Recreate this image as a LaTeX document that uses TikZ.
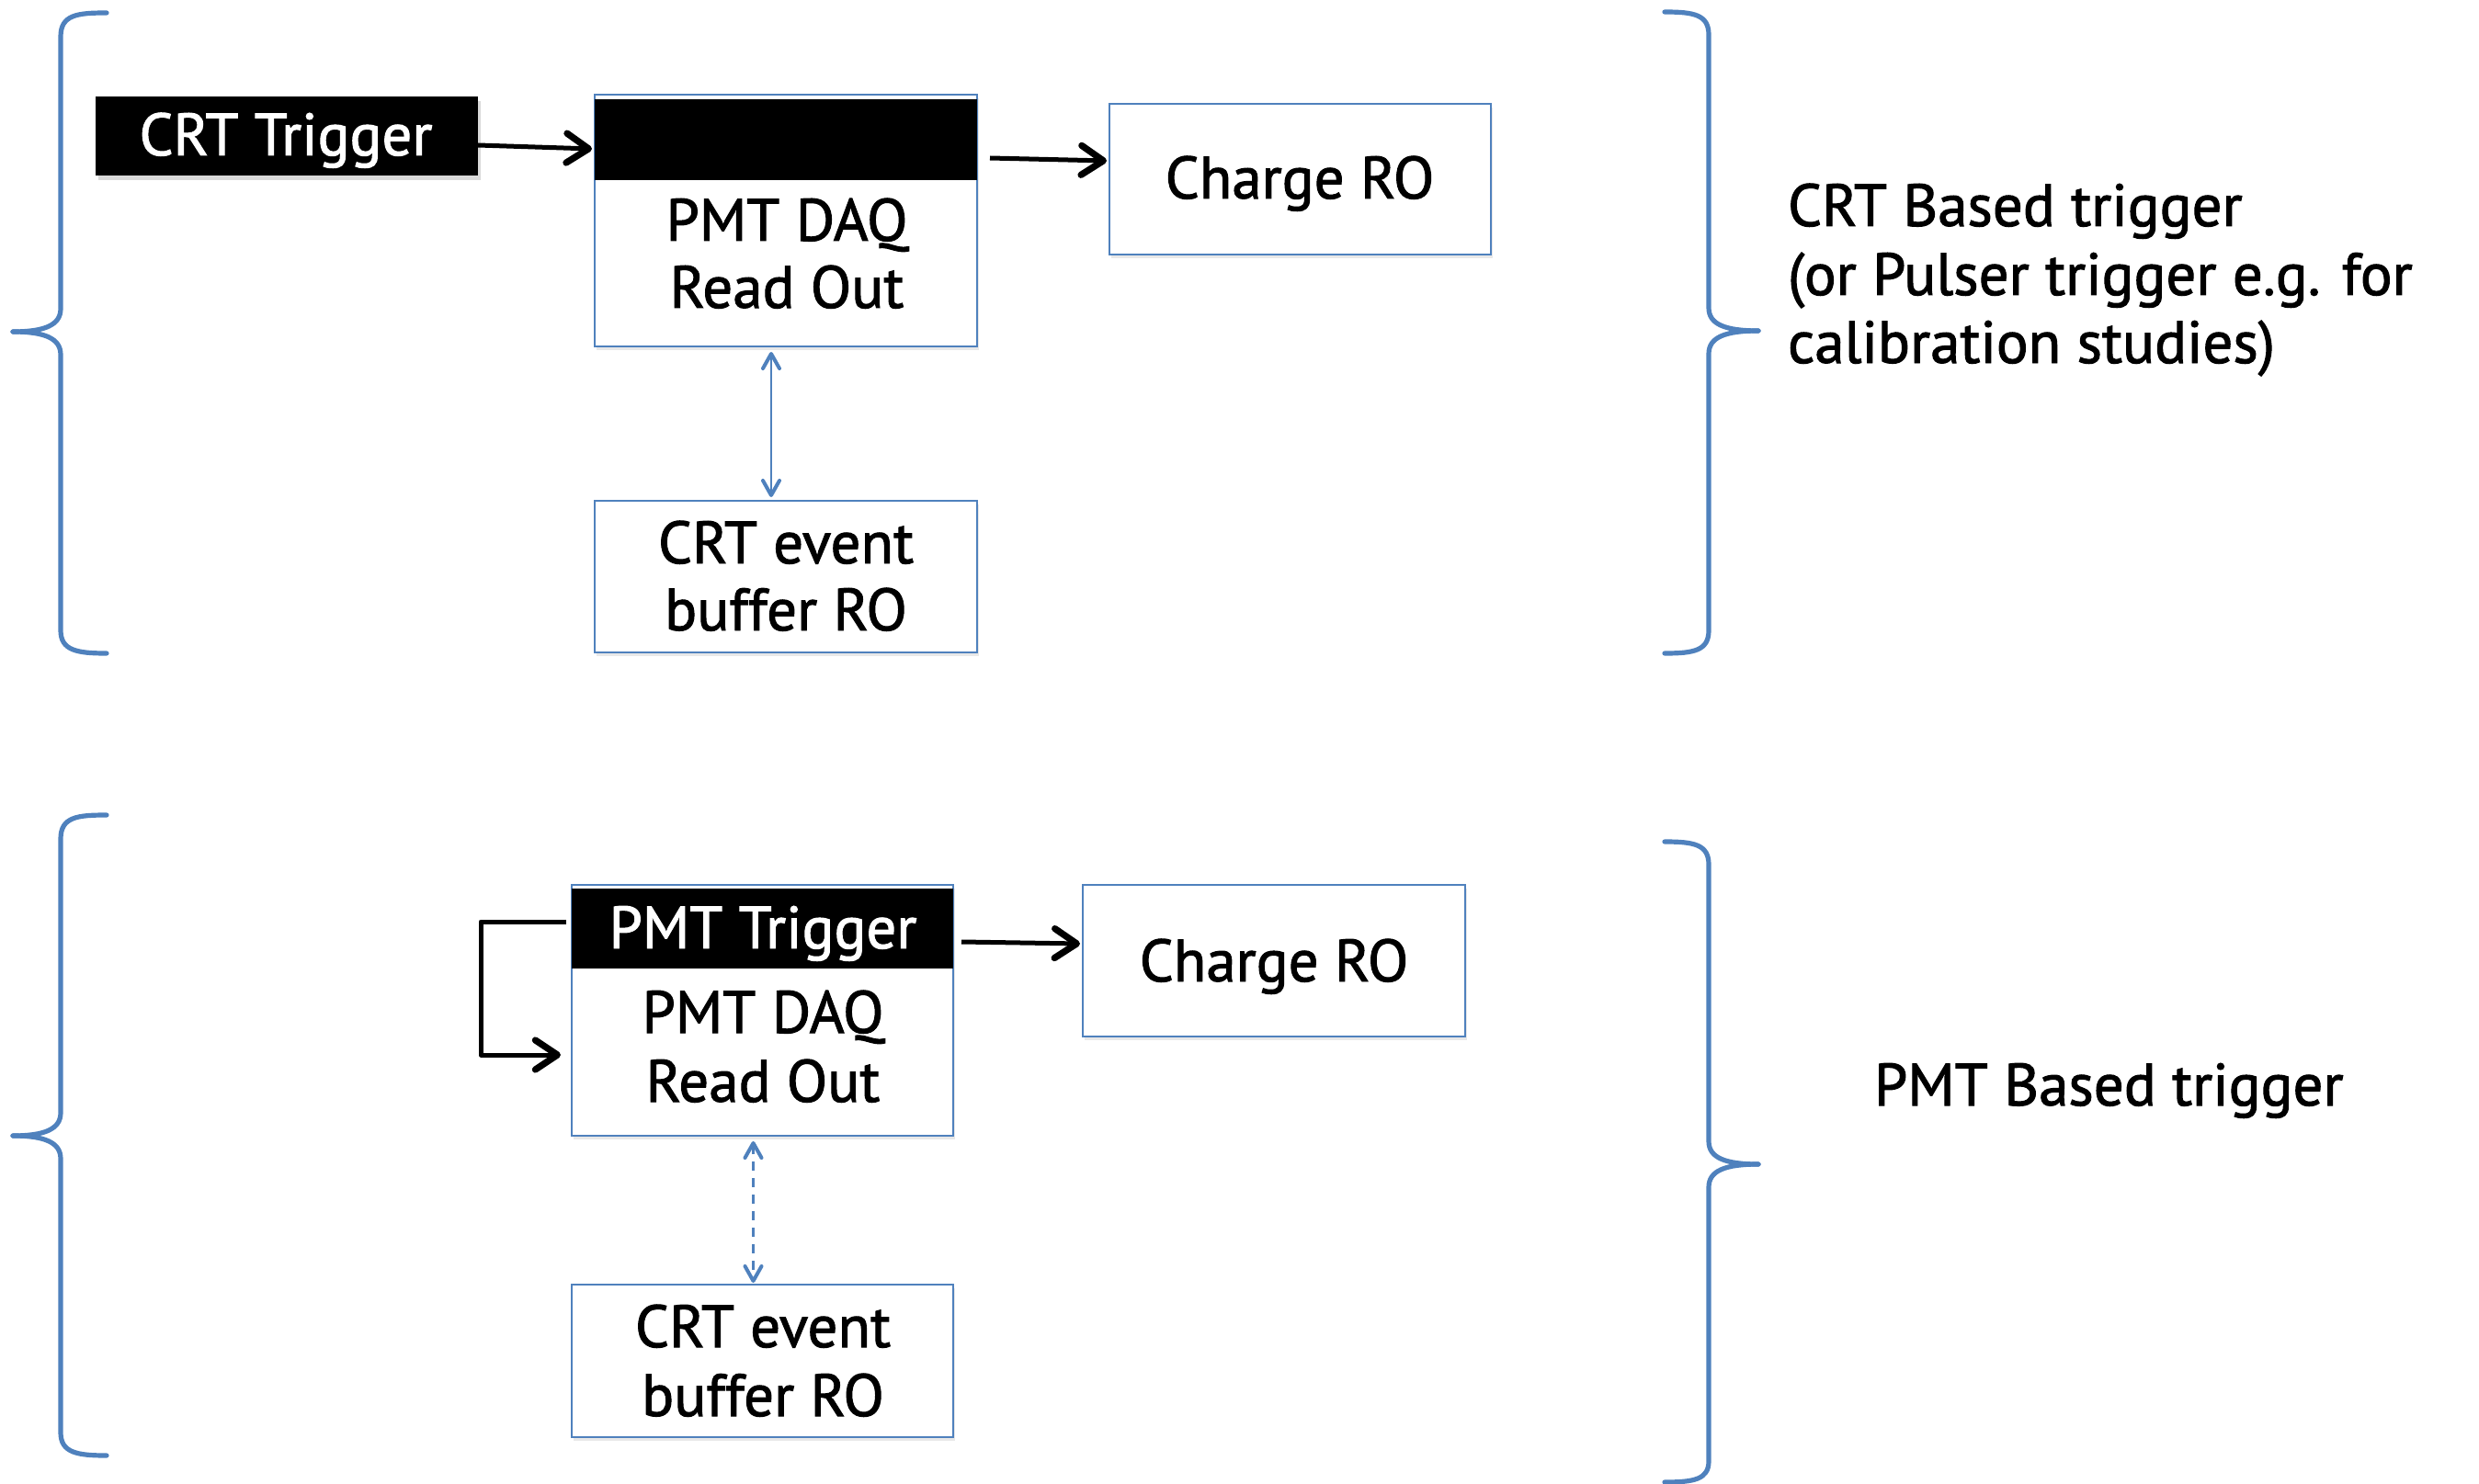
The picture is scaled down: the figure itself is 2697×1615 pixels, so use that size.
\documentclass[tikz,border=0pt]{standalone}
\usepackage{fontspec}
\setmainfont{PT Sans}[FakeBold=1.5]
\usetikzlibrary{arrows.meta,shadows}
\definecolor{obl}{HTML}{4F81BD}
\begin{document}
\begin{tikzpicture}[x=0.5pt,y=-0.5pt,
  every node/.style={inner sep=0pt,outer sep=0pt},
  txt/.style={font=\fontsize{32.5}{36.5}\selectfont,anchor=base},
  wtxt/.style={txt,text=white},
  lbl/.style={font=\fontsize{32.5}{37}\selectfont,anchor=base west},
  bluebox/.style={draw=obl,line width=1.3pt,fill=white,
    drop shadow={shadow xshift=1.2pt,shadow yshift=-2pt,opacity=0.18}},
  band/.style={fill=black},
  brace/.style={draw=obl,line width=2.6pt,line cap=round},
  blk/.style={draw=black,line width=2.5pt,
    -{Straight Barb[length=12pt,width=16pt,line width=3.6pt,round]}},
  bar/.style={draw=obl,line width=1.1pt,
    {Straight Barb[length=8pt,width=9pt,line width=2pt,round]}-{Straight Barb[length=8pt,width=9pt,line width=2pt,round]}}
]
\useasboundingbox (0,0) rectangle (2697,1615);

% ---------------- top section ----------------
\node[fill=black,minimum width=208pt,minimum height=43pt,
  drop shadow={shadow xshift=1.5pt,shadow yshift=-2.5pt,opacity=0.3}] (crttrig) at (311.5,148) {};
\node[wtxt] (crttrigt) at (311,169) {CRT Trigger};

\node[bluebox,minimum width=208pt,minimum height=137pt] (pmt1) at (855,240) {};
\node[band,minimum width=208pt,minimum height=44pt] (band1) at (855,152) {};
\node[txt] (pmt1a) at (856,262) {PMT DAQ};
\node[txt] (pmt1b) at (856,335) {Read Out};

\node[bluebox,minimum width=207.5pt,minimum height=82pt] (charge1) at (1414.5,195) {};
\node[txt] (charge1t) at (1414,216) {Charge RO};

\node[bluebox,minimum width=208pt,minimum height=82.5pt] (buf1) at (855,627.5) {};
\node[txt] (buf1a) at (855,613) {CRT event};
\node[txt] (buf1b) at (855,686) {buffer RO};

\coordinate (t1s) at (520,158);
\draw[blk] (t1s) -- ([xshift=-1.5pt]band1.west |- 0,162);
\coordinate (c1s) at (1077,172);
\draw[blk] (c1s) -- ([xshift=-1.5pt]charge1.west |- 0,175);
\draw[bar,shorten <=3pt,shorten >=2pt] ([xshift=-8pt]pmt1.south) -- ([xshift=-8pt]buf1.north);

% braces top
\draw[brace] (116,14) .. controls (84,14) and (66,16) .. (66,40) -- (66,336)
  .. controls (66,354) and (48,361) .. (14,361);
\draw[brace] (14,361) .. controls (48,361) and (66,368) .. (66,386) -- (66,686)
  .. controls (66,708) and (84,711) .. (116,711);
\draw[brace] (1811,13) .. controls (1843,13) and (1859,16) .. (1859,38) -- (1859,335)
  .. controls (1859,353) and (1877,360) .. (1913,360);
\draw[brace] (1913,360) .. controls (1877,360) and (1859,367) .. (1859,385) -- (1859,686)
  .. controls (1859,708) and (1843,711) .. (1811,711);

\node[lbl] (crtl1) at (1945,246) {CRT Based trigger};
\node[lbl] (crtl2) at (1945,321) {(or Pulser trigger e.g. for};
\node[lbl] (crtl3) at (1945,395) {calibration studies)};

% ---------------- bottom section ----------------
\node[bluebox,minimum width=207.5pt,minimum height=136.5pt] (pmt2) at (829.5,1099.5) {};
\node[band,minimum width=207.5pt,minimum height=43.5pt] (band2) at (829.5,1010.5) {};
\node[wtxt] (band2t) at (830,1032) {PMT Trigger};
\node[txt] (pmt2a) at (830,1124) {PMT DAQ};
\node[txt] (pmt2b) at (830,1199) {Read Out};

\node[bluebox,minimum width=208pt,minimum height=82.5pt] (charge2) at (1386,1045.5) {};
\node[txt] (charge2t) at (1386,1068) {Charge RO};

\node[bluebox,minimum width=207.5pt,minimum height=83pt] (buf2) at (829.5,1481) {};
\node[txt] (buf2a) at (830,1466) {CRT event};
\node[txt] (buf2b) at (830,1541) {buffer RO};

\coordinate (l1) at (616,1003);
\coordinate (l2) at (523,1003);
\draw[blk,line join=round] (l1) -- (l2) |- ([xshift=-6pt]pmt2.west |- 0,1148);
\coordinate (c2s) at (1046,1025);
\draw[blk] (c2s) -- ([xshift=-1.5pt]charge2.west |- 0,1027);
\draw[bar,dashed,dash pattern=on 5pt off 4pt,shorten <=3pt,shorten >=1pt]
  ([xshift=-5pt]pmt2.south) -- ([xshift=-5pt]buf2.north);

% braces bottom
\draw[brace] (116,887) .. controls (84,887) and (66,889) .. (66,913) -- (66,1211)
  .. controls (66,1229) and (48,1236) .. (14,1236);
\draw[brace] (14,1236) .. controls (48,1236) and (66,1243) .. (66,1261) -- (66,1559)
  .. controls (66,1581) and (84,1584) .. (116,1584);
\draw[brace] (1811,916) .. controls (1843,916) and (1859,919) .. (1859,941) -- (1859,1242)
  .. controls (1859,1260) and (1877,1267) .. (1913,1267);
\draw[brace] (1913,1267) .. controls (1877,1267) and (1859,1274) .. (1859,1292) -- (1859,1590)
  .. controls (1859,1610) and (1843,1613) .. (1811,1613);

\node[lbl] (pmtl) at (2039,1203) {PMT Based trigger};
\end{tikzpicture}
\end{document}
